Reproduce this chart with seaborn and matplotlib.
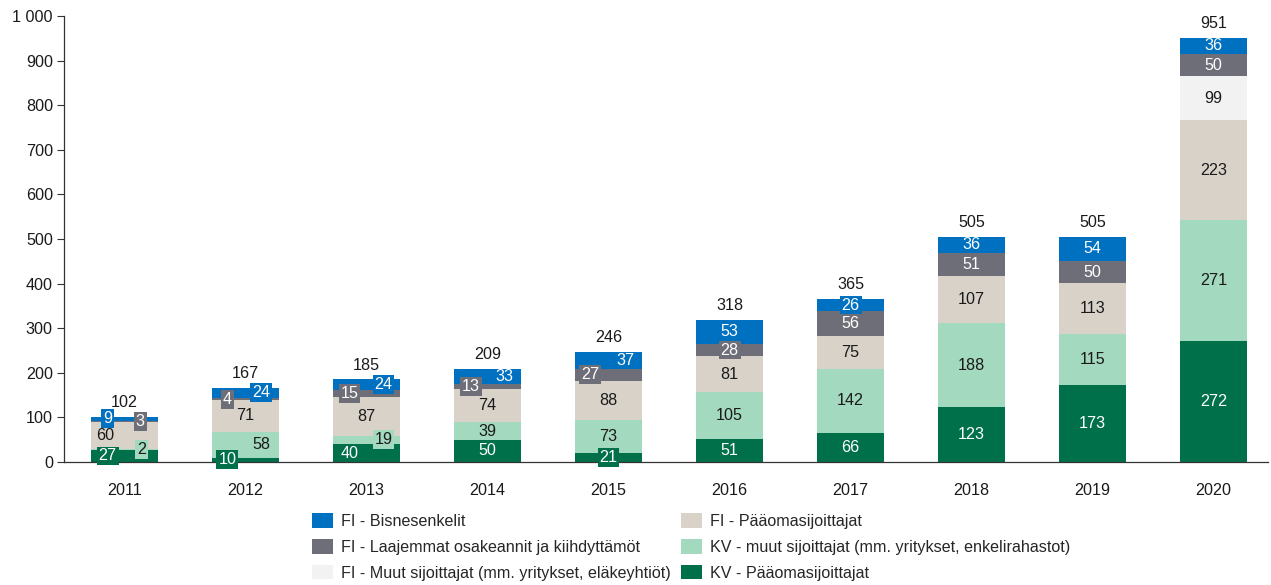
import matplotlib
matplotlib.use("Agg")
import matplotlib.pyplot as plt
from matplotlib.patches import Patch
from matplotlib.ticker import FuncFormatter
import numpy as np
import seaborn as sns

years = ["2011", "2012", "2013", "2014", "2015", "2016", "2017", "2018", "2019", "2020"]
kv_po = [27, 10, 40, 50, 21, 51, 66, 123, 173, 272]
kv_muut = [2, 58, 19, 39, 73, 105, 142, 188, 115, 271]
fi_po = [60, 71, 87, 74, 88, 81, 75, 107, 113, 223]
fi_muut = [1, 0, 0, 0, 0, 0, 0, 0, 0, 99]
fi_laaj = [3, 4, 15, 13, 27, 28, 56, 51, 50, 50]
fi_bis = [9, 24, 24, 33, 37, 53, 26, 36, 54, 36]
totals = [102, 167, 185, 209, 246, 318, 365, 505, 505, 951]

series_names = [
    "KV - Pääomasijoittajat",
    "KV - muut sijoittajat (mm. yritykset, enkelirahastot)",
    "FI - Pääomasijoittajat",
    "FI - Muut sijoittajat (mm. yritykset, eläkeyhtiöt)",
    "FI - Laajemmat osakeannit ja kiihdyttämöt",
    "FI - Bisnesenkelit",
]
series_vals = [kv_po, kv_muut, fi_po, fi_muut, fi_laaj, fi_bis]

# styling
colors = ["#00704A", "#A3D9BE", "#D9D2C9", "#F2F2F2", "#6D6E78", "#0070C0"]
text_colors = ["white", "#1a1a1a", "#1a1a1a", "#1a1a1a", "white", "white"]
dx = [
    [-0.14, -0.15, -0.14, 0, 0, 0, 0, 0, 0, 0],
    [0.14, 0.13, 0.14, 0, 0, 0, 0, 0, 0, 0],
    [-0.16, 0, 0, 0, 0, 0, 0, 0, 0, 0],
    [0] * 10,
    [0.13, -0.15, -0.14, -0.14, -0.15, 0, 0, 0, 0, 0],
    [-0.14, 0.13, 0.14, 0.14, 0.14, 0, 0, 0, 0, 0],
]
FS = 11.6

sns.set_theme(style="white")
plt.rcParams["font.family"] = ["Liberation Sans", "DejaVu Sans"]

fig = plt.figure(figsize=(12.71, 5.85), dpi=100)
ax = fig.add_axes([64 / 1271, 1 - 462 / 585, 1204 / 1271, (462 - 16) / 585])

vals = np.array(series_vals, dtype=float)
cum = np.cumsum(vals, axis=0)

# draw from top cumulative down so lower layers paint over
for i in range(len(series_vals) - 1, -1, -1):
    sns.barplot(x=years, y=cum[i], color=colors[i], saturation=1, width=0.55,
                linewidth=0, ax=ax, zorder=2)

# segment labels
for i, v in enumerate(series_vals):
    for j, val in enumerate(v):
        if val < 2:
            continue
        ymid = cum[i][j] - val / 2
        kw = {}
        if val < 30:
            kw["bbox"] = dict(boxstyle="square,pad=0.12", fc=colors[i], ec="none")
        ax.text(j + dx[i][j], ymid, str(val), ha="center", va="center",
                fontsize=FS, color=text_colors[i], zorder=5, **kw)

# totals
for j, t in enumerate(totals):
    ax.annotate(str(t), (j, cum[-1][j]), xytext=(0, 5), textcoords="offset points",
                ha="center", va="bottom", fontsize=FS, color="#1a1a1a")

ax.set_ylim(0, 1000)
ax.set_xlim(-0.5, 9.45)
ax.set_yticks(range(0, 1001, 100))
ax.yaxis.set_major_formatter(FuncFormatter(lambda v, p: f"{int(v):,}".replace(",", " ")))
ax.tick_params(axis="y", which="both", left=True, length=5, width=0.8, color="#333333",
               labelsize=FS, labelcolor="#1a1a1a", pad=3)
ax.tick_params(axis="x", bottom=False, labelsize=FS, labelcolor="#1a1a1a", pad=9)
ax.set_xlabel("")
ax.set_ylabel("")
for s in ["top", "right"]:
    ax.spines[s].set_visible(False)
ax.spines["left"].set_color("#333333")
ax.spines["bottom"].set_color("#333333")
ax.spines["left"].set_linewidth(0.9)
ax.spines["bottom"].set_linewidth(0.9)
ax.grid(False)

order = [5, 4, 3, 2, 1, 0]
handles = [Patch(facecolor=colors[k], edgecolor="none") for k in order]
labels = [series_names[k] for k in order]
fig.legend(handles, labels, ncol=2, frameon=False, fontsize=FS,
           loc="upper left", bbox_to_anchor=(301 / 1271, 1 - 502 / 585),
           handlelength=1.3, handleheight=1.05, handletextpad=0.5,
           labelspacing=0.6, columnspacing=0.6, borderpad=0.2)

fig.savefig("out.png", dpi=100)
